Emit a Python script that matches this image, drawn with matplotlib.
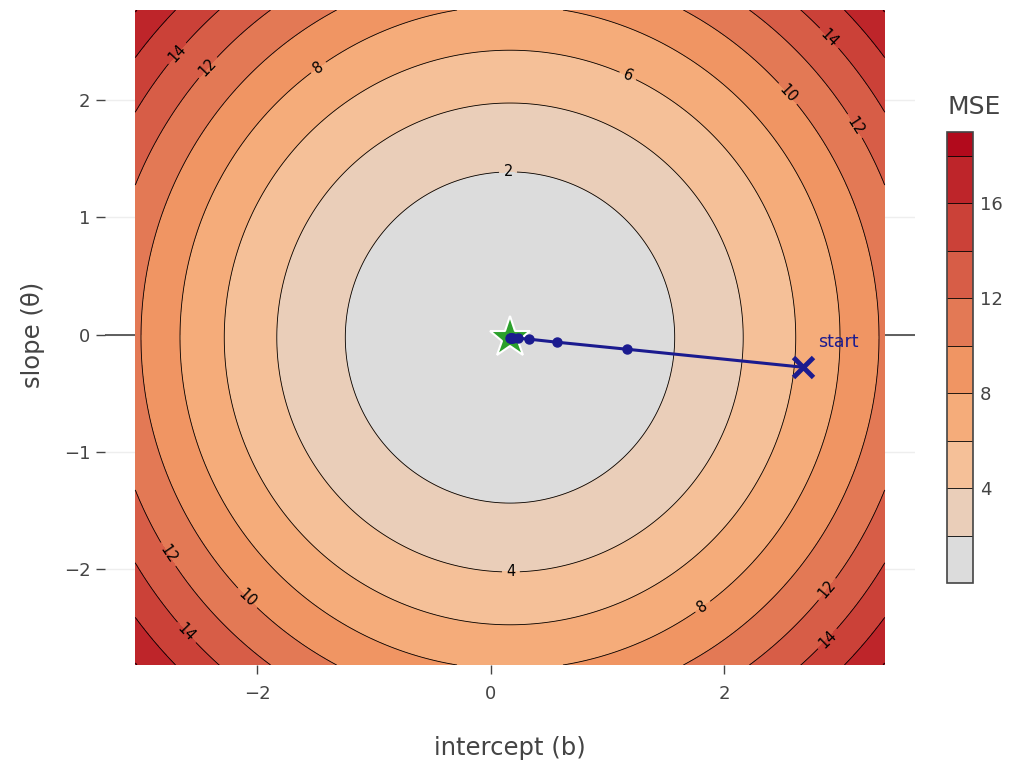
import numpy as np
import matplotlib as mpl
import matplotlib.pyplot as plt
from matplotlib.colors import LinearSegmentedColormap, ListedColormap, BoundaryNorm

# bowl parameters (minimum location and grid extent)
b_opt = 0.163
theta_opt = -0.024
mse_min = 0.01
b_span = 3.21
theta_span = 2.79

levels_lines = [2, 4, 6, 8, 10, 12, 14, 16, 18]
fill_levels = [-1, 2, 4, 6, 8, 10, 12, 14, 16, 18, 20]
cbar_bounds = [0, 2, 4, 6, 8, 10, 12, 14, 16, 18, 19]
cbar_ticks = [4, 8, 12, 16]

# plotly "Reds" colour scale
reds_stops = [0.0, 0.2, 0.4, 1.0]
reds_rgb = [(220, 220, 220), (245, 195, 157), (245, 160, 105), (178, 10, 28)]

# gradient descent steps
path_b = [2.67, 1.165, 0.565, 0.325, 0.228, 0.19, 0.174, 0.168, 0.165]
path_theta = [-0.277, -0.124, -0.064, -0.038, -0.030, -0.026, -0.025, -0.024, -0.024]

# where the contour labels sit
label_spots = [(-2.68, 2.39), (-2.41, 2.26), (-1.48, 2.28), (1.17, 2.20),
               (0.146, 1.385), (2.54, 2.05), (3.12, 1.78), (2.89, 2.52),
               (0.171, -2.025), (-2.79, -1.89), (-2.11, -2.27), (-2.62, -2.55),
               (1.816, -2.32), (2.88, -2.17), (2.89, -2.60)]

grey = '#444444'
path_col = '#1b1b8f'

cmap = LinearSegmentedColormap.from_list(
    'reds', [(s, tuple(v / 255 for v in c)) for s, c in zip(reds_stops, reds_rgb)])
band_colors = [cmap(k / 9) for k in range(10)]

b = np.linspace(b_opt - b_span, b_opt + b_span, 301)
th = np.linspace(theta_opt - theta_span, theta_opt + theta_span, 301)
B, T = np.meshgrid(b, th)
Z = (B - b_opt) ** 2 + (T - theta_opt) ** 2 + mse_min

fig = plt.figure(figsize=(10.18, 7.71), dpi=100)
ax = fig.add_axes([105 / 1018, 106 / 771, 810 / 1018, 655 / 771])

ax.contourf(B, T, Z, levels=fill_levels, colors=band_colors, zorder=1)
cs = ax.contour(B, T, Z, levels=levels_lines, colors='black', linewidths=0.6, zorder=2)
ax.clabel(cs, levels_lines, manual=label_spots, inline=True, fmt='%d',
          fontsize=10.5, colors='black')

ax.plot(b_opt, theta_opt, marker='*', ms=31, color='#2ca02c',
        mec='white', mew=1.5, zorder=4)
ax.plot(path_b, path_theta, '-', color=path_col, lw=2.2, zorder=5)
ax.plot(path_b[1:], path_theta[1:], 'o', color=path_col, ms=6.5, zorder=5)
ax.plot(path_b[0], path_theta[0], marker='x', ms=15, mew=3.5, color=path_col, zorder=6)
ax.annotate('start', xy=(path_b[0], path_theta[0]), xytext=(11, 18),
            textcoords='offset points', ha='left', va='center',
            fontsize=12.5, color=path_col, zorder=7)

ax.set_xlim(-3.306, 3.632)
ax.set_ylim(theta_opt - theta_span, theta_opt + theta_span)
ax.set_axisbelow(True)
ax.grid(color='#eeeeee', lw=1)
ax.axhline(0, color=grey, lw=1.2, zorder=0.6)
ax.set_xticks([-2, 0, 2])
ax.set_yticks([-2, -1, 0, 1, 2])
ax.tick_params(axis='x', length=6.5, width=1, color=grey, labelcolor=grey,
               labelsize=13, pad=8)
ax.tick_params(axis='y', length=6.5, width=1, color=grey, labelcolor=grey,
               labelsize=13, pad=4)
for s in ax.spines.values():
    s.set_visible(False)

fig.text(510 / 1018, 1 - 748 / 771, 'intercept (b)', fontsize=17.5, color=grey,
         ha='center', va='center')
fig.text(33 / 1018, 1 - 335 / 771, 'slope (θ)', fontsize=17.5, color=grey,
         ha='center', va='center', rotation=90)

# colour bar
cax = fig.add_axes([947 / 1018, (771 - 583) / 771, 26 / 1018, 451 / 771])
norm = BoundaryNorm(cbar_bounds, 10)
cb = fig.colorbar(mpl.cm.ScalarMappable(norm=norm, cmap=ListedColormap(band_colors)),
                  cax=cax, boundaries=cbar_bounds, spacing='proportional',
                  ticks=cbar_ticks)
cax.minorticks_off()
for lv in levels_lines:
    cax.axhline(lv, color='black', lw=0.6)
cb.outline.set_edgecolor(grey)
cb.outline.set_linewidth(1.2)
cax.tick_params(which='both', length=0, labelsize=13, labelcolor=grey, pad=5)
fig.text(948 / 1018, 1 - 107 / 771, 'MSE', fontsize=18, color=grey,
         ha='left', va='center')

fig.savefig('out.png', dpi=100)
